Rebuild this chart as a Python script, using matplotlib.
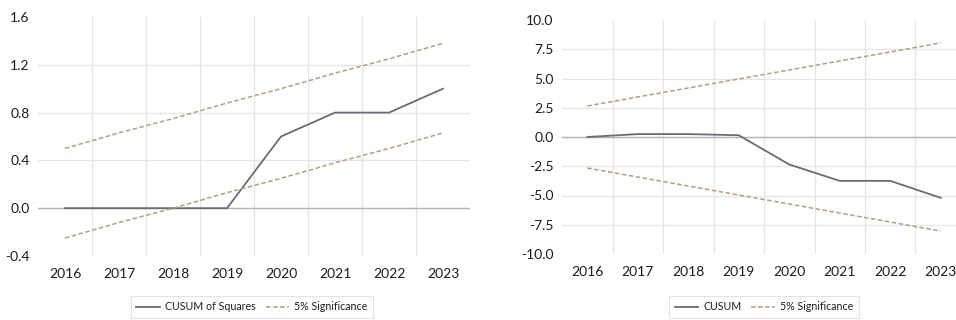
import matplotlib.pyplot as plt
from matplotlib.ticker import FixedLocator

plt.rcParams["font.family"] = ["Lato", "DejaVu Sans"]

years = ["2016", "2017", "2018", "2019", "2020", "2021", "2022", "2023"]

cusum_sq = [0.0, 0.0, 0.0, 0.0, 0.6, 0.8, 0.8, 1.0]
cusum_sq_upper = [0.50, 0.63, 0.75, 0.88, 1.00, 1.13, 1.25, 1.38]
cusum_sq_lower = [-0.25, -0.12, 0.00, 0.13, 0.25, 0.38, 0.50, 0.63]

cusum = [0.0, 0.25, 0.25, 0.15, -2.35, -3.75, -3.75, -5.2]
cusum_upper = [2.65, 3.42, 4.19, 4.96, 5.73, 6.50, 7.27, 8.04]
cusum_lower = [-2.65, -3.42, -4.19, -4.96, -5.73, -6.50, -7.27, -8.04]

LINE = "#676c75"
BAND = "#b0a182"
GRID = "#e5e5e5"
TEXT = "#1c1c1c"

fig = plt.figure(figsize=(9.56, 3.2), dpi=100)


def draw(ax, series, upper, lower, label, yticks, fmt, legend_x):
    x = range(len(years))
    ax.plot(x, series, color=LINE, lw=1.3, label=label, zorder=3)
    ax.plot(x, upper, color=BAND, lw=1.1, ls=(0, (3, 1.6)), label="5% Significance", zorder=3)
    ax.plot(x, lower, color=BAND, lw=1.1, ls=(0, (3, 1.6)), zorder=3)

    ax.set_xlim(-0.5, len(years) - 0.5)
    ax.set_ylim(yticks[0], yticks[-1])
    ax.set_xticks(list(x))
    ax.set_xticklabels(years)
    ax.xaxis.set_minor_locator(FixedLocator([i + 0.5 for i in range(len(years) - 1)]))
    ax.set_yticks(yticks)
    ax.set_yticklabels([fmt.format(v) for v in yticks])

    ax.grid(axis="x", which="minor", color=GRID, lw=0.9)
    ax.grid(axis="y", which="major", color=GRID, lw=0.9)
    # outer value gridlines are not drawn
    ygrid = ax.get_ygridlines()
    ygrid[0].set_visible(False)
    ygrid[-1].set_visible(False)
    ax.axhline(0, color="#b4b4b4", lw=1.0, zorder=2)
    for s in ax.spines.values():
        s.set_visible(False)
    ax.tick_params(axis="both", which="both", length=0, colors=TEXT, labelsize=10)
    ax.tick_params(axis="x", pad=9)
    ax.tick_params(axis="y", pad=6)

    leg = ax.legend(loc="center", bbox_to_anchor=(legend_x, 1 - 307 / 320),
                    bbox_transform=fig.transFigure, ncol=2, frameon=True,
                    fontsize=7.7, handlelength=2.2, columnspacing=0.9,
                    handletextpad=0.5, fancybox=False, borderpad=0.5)
    leg.get_frame().set_edgecolor("#dcdcdc")
    leg.get_frame().set_linewidth(0.8)
    for t in leg.get_texts():
        t.set_color(TEXT)


ax1 = fig.add_axes([38 / 956, 1 - 256 / 320, 432 / 956, 239 / 320])
draw(ax1, cusum_sq, cusum_sq_upper, cusum_sq_lower, "CUSUM of Squares",
     [-0.4, 0.0, 0.4, 0.8, 1.2, 1.6], "{:.1f}", 252 / 956)

ax2 = fig.add_axes([562 / 956, 1 - 254 / 320, 404 / 956, 234 / 320])
draw(ax2, cusum, cusum_upper, cusum_lower, "CUSUM",
     [-10.0, -7.5, -5.0, -2.5, 0.0, 2.5, 5.0, 7.5, 10.0], "{:.1f}", 764 / 956)

fig.savefig("out.png", dpi=100)
